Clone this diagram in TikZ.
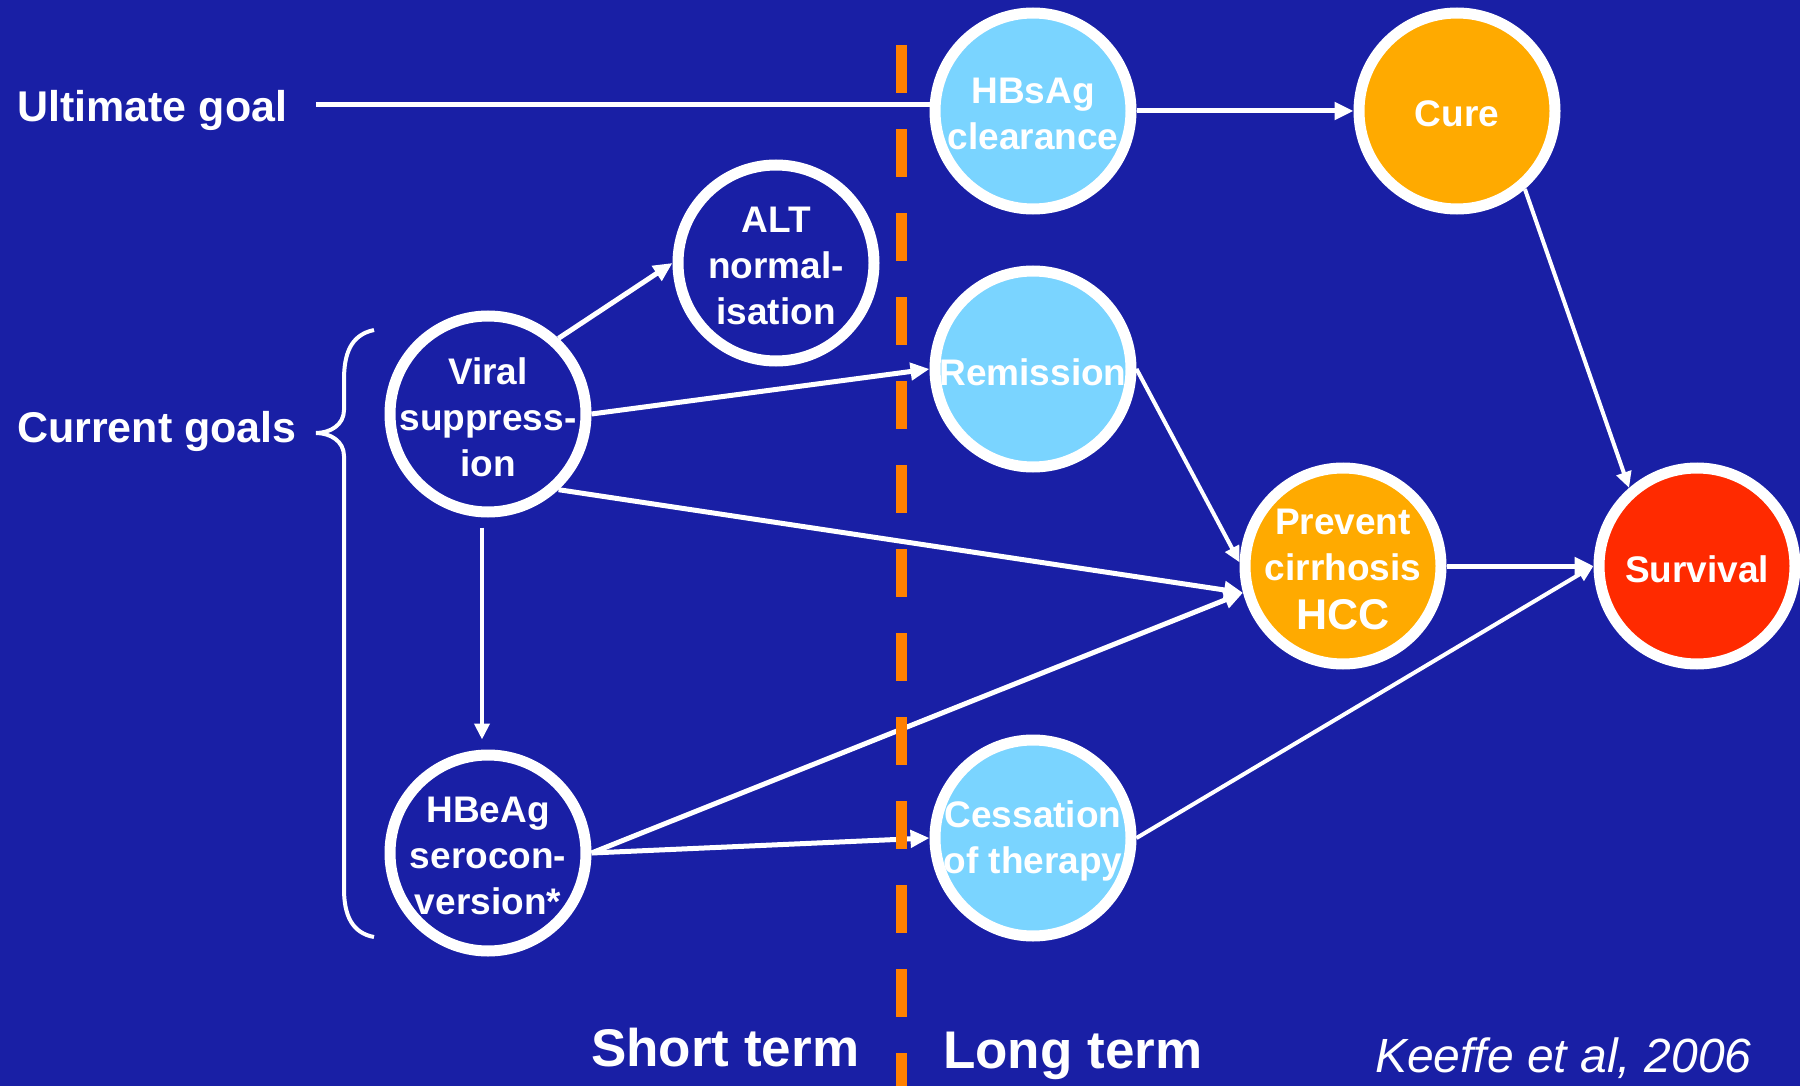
\documentclass[tikz,border=0pt]{standalone}
\usepackage{fontspec}
\setmainfont{Liberation Sans}
\usetikzlibrary{arrows.meta}
\definecolor{bgblue}{RGB}{25,31,165}
\definecolor{lblue}{RGB}{122,212,255}
\definecolor{gorange}{RGB}{255,170,0}
\definecolor{gred}{RGB}{255,42,0}
\definecolor{dorange}{RGB}{255,128,0}
\begin{document}
\begin{tikzpicture}[x=1pt,y=-1pt,
  goal/.style={circle,draw=white,line width=11pt,minimum size=196pt,inner sep=0pt},
  ntext/.style={text=white,font=\bfseries\fontsize{37}{46}\selectfont,align=center,inner sep=0pt,yshift=-3pt},
  lab/.style={text=white,font=\bfseries\fontsize{43}{50}\selectfont,inner sep=0pt,anchor=base west},
  big/.style={text=white,font=\bfseries\fontsize{53}{60}\selectfont,inner sep=0pt,anchor=base west},
  arr/.style={draw=white,line width=5pt,-{Triangle[length=19pt,width=17pt]}},
  thinarr/.style={draw=white,line width=4pt,-{Triangle[length=16pt,width=15pt]}},
  plain/.style={draw=white,line width=5pt}
]
\fill[bgblue] (0,0) rectangle (1800,1086);
\useasboundingbox (0,0) rectangle (1800,1086);

% circles
\node[goal,fill=lblue] (hbs) at (1033,111) {};
\node[goal,fill=gorange] (cure) at (1457,111) {};
\node[goal,fill=bgblue] (alt) at (776,263) {};
\node[goal,fill=lblue] (rem) at (1033,369) {};
\node[goal,fill=bgblue] (viral) at (488,414) {};
\node[goal,fill=gorange] (prev) at (1343,566) {};
\node[goal,fill=gred] (surv) at (1697,566) {};
\node[goal,fill=bgblue] (hbe) at (488,853) {};
\node[goal,fill=lblue] (ces) at (1033,838) {};

% node texts
\node[ntext] (thbs) at (hbs) {HBsAg\\clearance};
\node[ntext] (tcure) at (cure) {Cure};
\node[ntext] (talt) at (alt) {ALT\\normal-\\isation};
\node[ntext] (trem) at (rem) {Remission};
\node[ntext] (tviral) at (viral) {Viral\\suppress-\\ion};
\node[ntext] (tprev) at (prev) {Prevent\\cirrhosis\\[3pt]{\fontsize{43}{46}\selectfont HCC}};
\node[ntext] (tsurv) at (surv) {Survival};
\node[ntext] (thbe) at (hbe) {HBeAg\\serocon-\\version*};
\node[ntext] (tces) at (ces) {Cessation\\of therapy};

% labels
\node[lab] (ultimate) at (17,122) {Ultimate goal};
\node[lab] (current) at (17,442) {Current goals};
\node[big] (short) at (591,1066) {Short term};
\node[big] (long) at (943,1068) {Long term};
\node[text=white,font=\itshape\fontsize{48}{52}\selectfont,inner sep=0pt,anchor=base west] (cite) at (1375,1072) {Keeffe et al, 2006};

% brace
\draw[white,line width=4pt] (374,330) .. controls (350,335) and (344,355) .. (344,380) -- (344,410)
  .. controls (344,425) and (330,433) .. (316,433)
  .. controls (330,433) and (344,441) .. (344,456) -- (344,889)
  .. controls (344,915) and (352,933) .. (374,937);

% connectors
\coordinate (ugs) at (316,104.5);
\draw[plain] (ugs) -- (ugs -| hbs.west);
\draw[arr] (hbs.east) -- (cure.west);
\draw[thinarr] (cure.-49) -- (surv.131);
\draw[arr] (viral.47) -- (alt.west);
\draw[arr] (viral.east) -- (rem.west);
\draw[arr] (viral.-47) -- (prev.195);
\draw[thinarr,shorten <=10pt,shorten >=10pt] ([xshift=-6pt]viral.south) -- ([xshift=-6pt]hbe.north);
\draw[thinarr] (rem.east) -- (prev.178);
\draw[arr] (prev.east) -- (surv.west);
\draw[arr] (hbe.east) -- (prev.195);
\draw[arr] (hbe.east) -- (ces.west);
\draw[thinarr] (ces.east) -- (surv.west);

% dashed divider
\draw[dorange,line width=11pt,dash pattern=on 48pt off 36pt] (901,45) -- (901,1086);
\end{tikzpicture}
\end{document}
